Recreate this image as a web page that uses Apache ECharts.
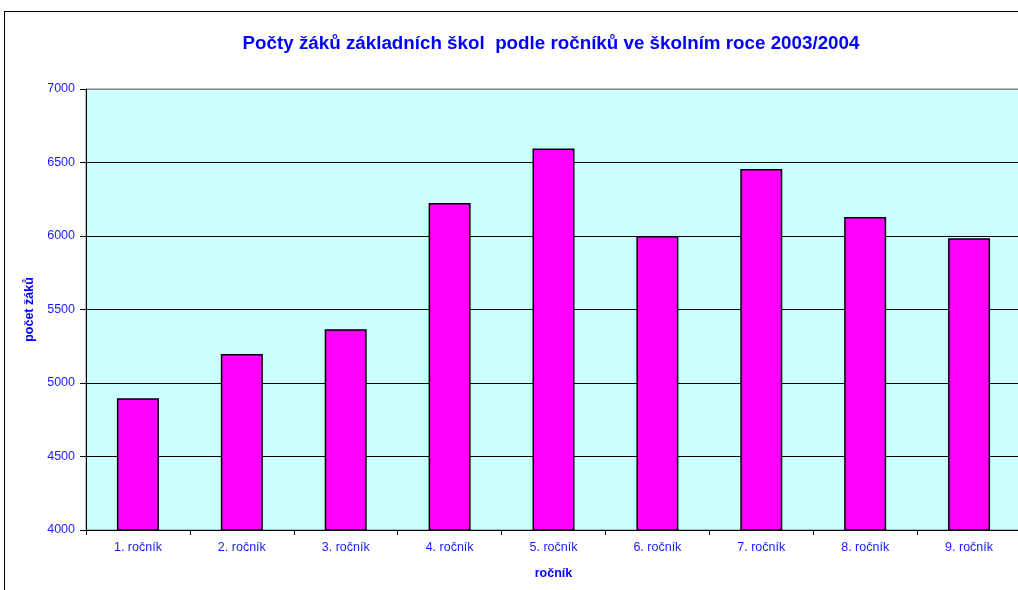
<!DOCTYPE html>
<html>
<head>
<meta charset="utf-8">
<script src="https://cdn.jsdelivr.net/npm/echarts@6/dist/echarts.min.js"></script>
<style>
  html, body { margin: 0; padding: 0; overflow: hidden; background: #fff; }
  #frame { position: absolute; left: 4px; top: 11px; width: 1100px; height: 700px; border: 1px solid #000; }
  #main { position: absolute; left: 0; top: 0; width: 1022px; height: 590px; }
</style>
</head>
<body>
<div id="frame"></div>
<div id="main"></div>
<script>
// ročníky a počty žáků
var categories = ['1. ročník', '2. ročník', '3. ročník', '4. ročník', '5. ročník', '6. ročník', '7. ročník', '8. ročník', '9. ročník'];
var pupils = [4897, 5197, 5365, 6225, 6595, 6000, 6455, 6130, 5985];
var yTicks = [4000, 4500, 5000, 5500, 6000, 6500, 7000];

var blue = '#1a1aff';
var font = 'Liberation Sans, Arial, sans-serif';
var chart = echarts.init(document.getElementById('main'));
var option = {
  animation: false,
  textStyle: { fontFamily: font },
  title: {
    text: 'Počty žáků základních škol  podle ročníků ve školním roce 2003/2004',
    left: 546,
    textAlign: 'center',
    top: 29,
    textStyle: { color: '#0000ff', fontSize: 18.8, fontWeight: 'bold', fontFamily: font }
  },
  grid: {
    left: 86, top: 89, right: 1, bottom: 60,
    show: true,
    backgroundColor: '#ccffff',
    borderColor: '#808080',
    borderWidth: 1
  },
  xAxis: {
    type: 'category',
    data: categories,
    name: 'ročník',
    nameLocation: 'middle',
    nameGap: 37,
    nameTextStyle: { color: '#0000ff', fontWeight: 'bold', fontSize: 12.5 },
    axisLine: { lineStyle: { color: '#000', width: 1 } },
    axisTick: { show: true, length: 5, lineStyle: { color: '#000' } },
    axisLabel: { color: blue, fontSize: 12.5, margin: 11 }
  },
  yAxis: {
    type: 'value',
    min: yTicks[0],
    max: yTicks[yTicks.length - 1],
    interval: 500,
    name: 'počet žáků',
    nameLocation: 'middle',
    nameGap: 47,
    nameTextStyle: { color: '#0000ff', fontWeight: 'bold', fontSize: 12.5 },
    axisLine: { show: true, lineStyle: { color: '#000', width: 1 } },
    axisTick: { show: true, length: 6, lineStyle: { color: '#000' } },
    axisLabel: { color: blue, fontSize: 12.5, margin: 11, formatter: function (v) { return String(v); } },
    splitLine: { show: true, lineStyle: { color: ['#000', '#000', '#000', '#000', '#000', '#000', '#808080'], width: 1 } }
  },
  series: [{
    type: 'bar',
    data: pupils,
    barWidth: 42,
    itemStyle: { color: '#ff00ff', borderColor: '#000', borderWidth: 1.5 }
  }]
};
chart.setOption(option);
</script>
</body>
</html>
